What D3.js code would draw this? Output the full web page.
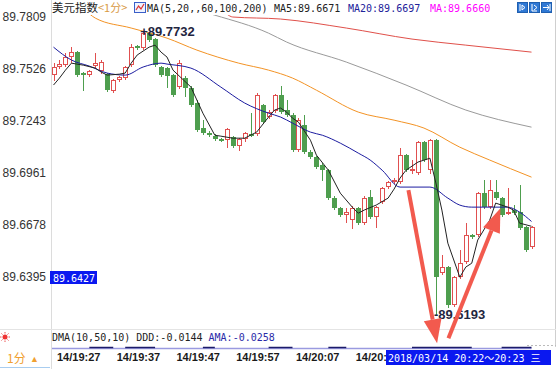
<!DOCTYPE html>
<html>
<head>
<meta charset="utf-8">
<script src="https://cdn.jsdelivr.net/npm/d3@7"></script>
<style>
  body { margin: 0; background: #fff; overflow: hidden; }
  svg { display: block; }
</style>
</head>
<body>
<div id="chart"></div>
<script>
// one candle per minute, index 0 = 14/19:26
const opens = [89.7493, 89.7537, 89.7547, 89.7591, 89.7618, 89.7504, 89.7493, 89.7542, 89.7515, 89.7498,
  89.7406, 89.7466, 89.7477, 89.7547, 89.7651, 89.7640, 89.7721, 89.7689, 89.7537, 89.7531,
  89.7493, 89.7428, 89.7477, 89.7422, 89.7341, 89.7205, 89.7177, 89.7161, 89.7145, 89.7139,
  89.7156, 89.7107, 89.7145, 89.7172, 89.7172, 89.7330, 89.7265, 89.7297, 89.7384, 89.7303,
  89.7276, 89.7085, 89.7221, 89.7074, 89.7047, 89.7003, 89.6976, 89.6824, 89.6769, 89.6731,
  89.6704, 89.6769, 89.6688, 89.6829, 89.6720, 89.6802, 89.6884, 89.6911, 89.6911, 89.7058,
  89.6971, 89.6960, 89.7128, 89.6976, 89.7139, 89.6416, 89.6449, 89.6242, 89.6394, 89.6476,
  89.6623, 89.6623, 89.6851, 89.6775, 89.6857, 89.6824, 89.6742, 89.6759, 89.6748, 89.6666,
  89.6557];
const closes = [89.7537, 89.7553, 89.7591, 89.7618, 89.7493, 89.7493, 89.7515, 89.7558, 89.7564, 89.7411,
  89.7466, 89.7482, 89.7537, 89.7645, 89.7640, 89.7721, 89.7683, 89.7547, 89.7493, 89.7488,
  89.7384, 89.7558, 89.7422, 89.7330, 89.7194, 89.7177, 89.7166, 89.7145, 89.7139, 89.7199,
  89.7107, 89.7145, 89.7177, 89.7166, 89.7384, 89.7237, 89.7292, 89.7384, 89.7292, 89.7276,
  89.7085, 89.7248, 89.7074, 89.7047, 89.6993, 89.6976, 89.6824, 89.6769, 89.6731, 89.6748,
  89.6769, 89.6688, 89.6824, 89.6720, 89.6775, 89.6878, 89.6911, 89.6922, 89.7058, 89.6976,
  89.6982, 89.7128, 89.7031, 89.7139, 89.6394, 89.6449, 89.6242, 89.6394, 89.6470, 89.6623,
  89.6612, 89.6851, 89.6775, 89.6867, 89.6824, 89.6731, 89.6748, 89.6742, 89.6661, 89.6541,
  89.6666];
const highs = [89.7558, 89.7575, 89.7613, 89.7645, 89.7624, 89.7509, 89.7520, 89.7613, 89.7575, 89.7504,
  89.7471, 89.7488, 89.7542, 89.7662, 89.7656, 89.7732, 89.7727, 89.7694, 89.7542, 89.7537,
  89.7498, 89.7575, 89.7488, 89.7433, 89.7357, 89.7248, 89.7188, 89.7172, 89.7150, 89.7205,
  89.7161, 89.7150, 89.7183, 89.7286, 89.7395, 89.7335, 89.7303, 89.7390, 89.7433, 89.7357,
  89.7286, 89.7259, 89.7276, 89.7085, 89.7052, 89.7014, 89.6982, 89.6835, 89.6775, 89.6769,
  89.6780, 89.6775, 89.6835, 89.6867, 89.6780, 89.6884, 89.6916, 89.6933, 89.7096, 89.7063,
  89.7031, 89.7134, 89.7134, 89.7145, 89.7145, 89.6514, 89.6454, 89.6400, 89.6541, 89.6688,
  89.6628, 89.6857, 89.6922, 89.6922, 89.6922, 89.6829, 89.6878, 89.6786, 89.6895, 89.6672,
  89.6672];
const lows = [89.7466, 89.7531, 89.7542, 89.7564, 89.7488, 89.7411, 89.7488, 89.7531, 89.7504, 89.7406,
  89.7401, 89.7460, 89.7471, 89.7542, 89.7634, 89.7634, 89.7678, 89.7542, 89.7488, 89.7428,
  89.7379, 89.7422, 89.7379, 89.7324, 89.7188, 89.7172, 89.7161, 89.7139, 89.7134, 89.7101,
  89.7101, 89.7085, 89.7134, 89.7161, 89.7166, 89.7232, 89.7259, 89.7292, 89.7286, 89.7270,
  89.7080, 89.7080, 89.7069, 89.7041, 89.6987, 89.6922, 89.6818, 89.6764, 89.6726, 89.6693,
  89.6661, 89.6682, 89.6682, 89.6715, 89.6666, 89.6797, 89.6878, 89.6906, 89.6906, 89.6971,
  89.6960, 89.6955, 89.7025, 89.6960, 89.6193, 89.6410, 89.6231, 89.6236, 89.6389, 89.6470,
  89.6606, 89.6617, 89.6769, 89.6769, 89.6818, 89.6726, 89.6737, 89.6737, 89.6656, 89.6536,
  89.6552];

// moving averages: [candle index, price]
const ma5 = [[0, 89.7439], [1, 89.7477], [2, 89.7520], [3, 89.7558], [5, 89.7547], [7, 89.7531], [8, 89.7509],
  [9, 89.7493], [11, 89.7498], [12, 89.7504], [13, 89.7558], [14, 89.7602], [16, 89.7645], [17, 89.7656],
  [18, 89.7618], [19, 89.7591], [20, 89.7520], [23, 89.7428], [25, 89.7286], [27, 89.7166], [28, 89.7161],
  [30, 89.7150], [32, 89.7150], [34, 89.7183], [36, 89.7265], [37, 89.7303], [38, 89.7314], [39, 89.7292],
  [40, 89.7259], [41, 89.7237], [43, 89.7139], [44, 89.7058], [46, 89.6976], [48, 89.6851], [50, 89.6775],
  [51, 89.6742], [52, 89.6759], [54, 89.6786], [56, 89.6824], [57, 89.6873], [58, 89.6933], [59, 89.6976],
  [61, 89.7020], [63, 89.7041], [64, 89.6906], [65, 89.6759], [66, 89.6579], [68, 89.6394], [69, 89.6449],
  [70, 89.6470], [71, 89.6596], [73, 89.6704], [74, 89.6797], [76, 89.6775], [77, 89.6759], [78, 89.6688],
  [80, 89.6671]];
const ma20 = [[0, 89.7645], [3, 89.7575], [6, 89.7542], [9, 89.7504], [12, 89.7493], [15, 89.7537], [18, 89.7558],
  [19, 89.7553], [23, 89.7531], [28, 89.7428], [32, 89.7341], [36, 89.7286], [38, 89.7265], [40, 89.7232],
  [43, 89.7183], [45, 89.7166], [48, 89.7123], [51, 89.7069], [53, 89.7031], [55, 89.6976], [58, 89.6884],
  [63, 89.6884], [66, 89.6824], [68, 89.6786], [70, 89.6775], [76, 89.6775], [78, 89.6748], [80, 89.6697]];
const ma60 = [[5, 89.7857], [7, 89.7803], [13, 89.7749], [19, 89.7694], [24, 89.7629], [31, 89.7558], [36, 89.7520],
  [40, 89.7477], [44, 89.7411], [51, 89.7292], [57, 89.7248], [62, 89.7205], [68, 89.7101], [73, 89.7031],
  [80, 89.6938]];
const ma100 = [[24, 89.7847], [27, 89.7819], [36, 89.7721], [39, 89.7673], [49, 89.7564], [59, 89.7439],
  [69, 89.7303], [80, 89.7210]];
const ma200 = [[29, 89.7825], [30, 89.7809], [38, 89.7798], [49, 89.7749], [60, 89.7689], [69, 89.7656],
  [80, 89.7618]];

const priceTicks = [89.7809, 89.7526, 89.7243, 89.6961, 89.6678, 89.6395];
const timeTickIdx = [1, 11, 21, 31, 41, 51];
const timeTickLabels = ['14/19:27', '14/19:37', '14/19:47', '14/19:57', '14/20:07', '14/20:17'];

const highMark = [15, 89.7732];
const lowMark = [64, 89.6193];
const cursorPrice = 89.6427;
const cursorTime = '2018/03/14 20:22～20:23 三';

// hand-drawn red arrows, in [candle index, price]
const arrows = [
  { from: [59.4, 89.6867], to: [64.2, 89.6035] },
  { from: [66.1, 89.6062], to: [74.8, 89.6769] },
];
// DMA lines peeking at the bottom of the sub panel
const dmaDark = [[6, 10], [12, 17], [25, 27], [36, 40], [46, 49], [60, 70], [75, 80]];

const W = 558, H = 369;
const RED = '#e05050', GREEN = '#4e9e4e';
const MONO = '"DejaVu Sans Mono", "Liberation Mono", "Noto Sans CJK SC", monospace';

const svg = d3.select('#chart').append('svg')
  .attr('width', W).attr('height', H)
  .style('font-family', '"Liberation Sans", Arial, sans-serif');

const x = d3.scaleLinear().domain([0, 80]).range([53.5, 531.5]);
const y = d3.scaleLinear().domain([89.6395, 89.7809]).range([277, 17]);

// frame
svg.append('line').attr('x1', 51.5).attr('x2', 51.5).attr('y1', 0).attr('y2', H).attr('stroke', '#dcdcdc');
svg.append('line').attr('x1', 555.5).attr('x2', 555.5).attr('y1', 0).attr('y2', 347).attr('stroke', '#cfcfcf');
svg.append('line').attr('x1', 0).attr('x2', 556).attr('y1', 329.5).attr('y2', 329.5).attr('stroke', '#e4e4e4');
svg.append('line').attr('x1', 527).attr('x2', 556).attr('y1', 345.5).attr('y2', 345.5)
  .attr('stroke', '#bbb').attr('stroke-dasharray', '2,2');
svg.append('line').attr('x1', 0).attr('x2', 50).attr('y1', 367.5).attr('y2', 367.5).attr('stroke', '#a8cdf0');

const defs = svg.append('defs');
defs.append('clipPath').attr('id', 'plotclip')
  .append('rect').attr('x', 52).attr('y', 15).attr('width', 503).attr('height', 314);

const plot = svg.append('g').attr('clip-path', 'url(#plotclip)');

// price axis
const yAxis = svg.append('g')
  .attr('transform', 'translate(46,0)')
  .call(d3.axisLeft(y).tickValues(priceTicks).tickFormat(d3.format('.4f')).tickSize(0));
yAxis.select('.domain').remove();
yAxis.selectAll('text').attr('x', 0).attr('font-size', 12).attr('fill', '#333')
  .attr('font-family', '"Liberation Sans", Arial, sans-serif');

// candles
const bars = d3.range(opens.length).map(i => ({ i, o: opens[i], c: closes[i], h: highs[i], l: lows[i] }));
plot.selectAll('g.candle').data(bars).join('g').attr('class', 'candle')
  .each(function (d) {
    const g = d3.select(this);
    const cx = Math.round(x(d.i));
    const up = d.c > d.o;
    const col = up ? RED : GREEN;
    const top = Math.round(y(Math.max(d.o, d.c)));
    const bot = Math.round(y(Math.min(d.o, d.c)));
    g.append('line')
      .attr('x1', cx + 0.5).attr('x2', cx + 0.5)
      .attr('y1', Math.round(y(d.h))).attr('y2', Math.round(y(d.l)) + 1)
      .attr('stroke', col);
    if (up) {
      g.append('rect')
        .attr('x', cx - 1.5).attr('y', top + 0.5)
        .attr('width', 4).attr('height', Math.max(bot - top - 1, 1))
        .attr('fill', '#fff').attr('stroke', col);
    } else {
      g.append('rect')
        .attr('x', cx - 2).attr('y', top)
        .attr('width', 5).attr('height', Math.max(bot - top, 2))
        .attr('fill', col);
    }
  });

// moving average lines
const straight = d3.line().x(d => x(d[0])).y(d => y(d[1]));
const smooth = d3.line().x(d => x(d[0])).y(d => y(d[1])).curve(d3.curveMonotoneX);
const maLines = [
  { data: ma200, color: '#e0504a', gen: smooth },
  { data: ma100, color: '#9a9a9a', gen: smooth },
  { data: ma60, color: '#f39325', gen: smooth },
  { data: ma20, color: '#1c1ca0', gen: smooth },
  { data: ma5, color: '#222', gen: straight },
];
plot.selectAll('path.ma').data(maLines).join('path')
  .attr('class', 'ma')
  .attr('d', d => d.gen(d.data))
  .attr('fill', 'none')
  .attr('stroke', d => d.color)
  .attr('stroke-width', 1);

// extreme labels
svg.append('text')
  .attr('x', x(highMark[0]) - 3).attr('y', y(highMark[1]) + 5)
  .attr('font-size', 13).attr('font-weight', 'bold').attr('fill', '#1f2540')
  .text('+' + highMark[1].toFixed(4));
svg.append('text')
  .attr('x', x(lowMark[0]) - 2).attr('y', y(lowMark[1]) + 5)
  .attr('font-size', 13).attr('font-weight', 'bold').attr('fill', '#1f2540')
  .text('-' + lowMark[1].toFixed(4));

// arrows
const ARROW = '#f25a4e';
arrows.forEach(a => {
  const x1 = x(a.from[0]), y1 = y(a.from[1]), x2 = x(a.to[0]), y2 = y(a.to[1]);
  const ang = Math.atan2(y2 - y1, x2 - x1);
  const len = 24, half = 9;
  const bx = x2 - len * Math.cos(ang), by = y2 - len * Math.sin(ang);
  svg.append('line')
    .attr('x1', x1).attr('y1', y1).attr('x2', bx).attr('y2', by)
    .attr('stroke', ARROW).attr('stroke-width', 4);
  svg.append('polygon')
    .attr('points', [
      [x2, y2],
      [bx + half * Math.sin(ang), by - half * Math.cos(ang)],
      [bx - half * Math.sin(ang), by + half * Math.cos(ang)],
    ].map(p => p.join(',')).join(' '))
    .attr('fill', ARROW);
});

// cursor price box
const cpY = Math.round(y(cursorPrice));
svg.append('rect').attr('x', 50).attr('y', cpY).attr('width', 47).attr('height', 13).attr('fill', '#0a18f0');
svg.append('text').attr('x', 53).attr('y', cpY + 10.5)
  .attr('font-family', MONO).attr('font-size', 10).attr('fill', '#fff')
  .text(cursorPrice.toFixed(4));

// header
const head = svg.append('g').attr('font-family', MONO).attr('font-size', 10);
head.append('text').attr('x', 52).attr('y', 12)
  .attr('font-family', '"Noto Sans CJK SC", sans-serif').attr('font-size', 11.5).attr('fill', '#222')
  .text('美元指数');
head.append('text').attr('x', 98).attr('y', 12)
  .attr('font-family', '"Noto Sans CJK SC", sans-serif').attr('font-size', 11).attr('fill', '#d99a45')
  .text('<1分>');
head.append('rect').attr('x', 134.5).attr('y', 2.5).attr('width', 11).attr('height', 10)
  .attr('fill', '#eef3ff').attr('stroke', '#3a5ec8');
head.append('polyline').attr('points', '136,10 138.5,6 141,9 144,4')
  .attr('fill', 'none').attr('stroke', '#d33').attr('stroke-width', 1.2);
head.append('text').attr('x', 147).attr('y', 12).attr('fill', '#222').text('MA(5,20,,60,100,200)');
head.append('text').attr('x', 274).attr('y', 12).attr('fill', '#222').text('MA5:89.6671');
head.append('text').attr('x', 348).attr('y', 12).attr('fill', '#22229a').text('MA20:89.6697');
head.append('text').attr('x', 430).attr('y', 12).attr('fill', '#ff00ff').text('MA:89.6660');

[517, 529, 541].forEach((bx, k) => {
  head.append('rect').attr('x', bx + 0.5).attr('y', 2.5).attr('width', 10).attr('height', 10)
    .attr('fill', '#2f78d4').attr('stroke', '#1f5fb0');
  const g = head.append('g').attr('stroke', '#fff').attr('fill', 'none').attr('stroke-width', 1);
  if (k === 0) {
    g.append('path').attr('d', `M${bx + 3},4 V11 M${bx + 5},5 L${bx + 8},7.5 L${bx + 5},10 Z`);
  } else if (k === 1) {
    g.append('path').attr('d', `M${bx + 3},4 V11 H${bx + 8} M${bx + 5},5 L${bx + 8},7.5 L${bx + 5},10`);
  } else {
    g.append('path').attr('d', `M${bx + 2},7.5 H${bx + 8} M${bx + 6},5 L${bx + 8},7.5 L${bx + 6},10 M${bx + 9},4 V11`);
  }
});

// DMA sub panel
svg.append('text').attr('x', 52).attr('y', 341).attr('font-family', MONO).attr('font-size', 10)
  .call(t => {
    t.append('tspan').attr('fill', '#222').text('DMA(10,50,10) DDD:-0.0144 ');
    t.append('tspan').attr('fill', '#2a2aa8').text('AMA:-0.0258');
  });
svg.append('line').attr('x1', 52).attr('x2', x(80)).attr('y1', 348.5).attr('y2', 348.5)
  .attr('stroke', '#9a9ae0').attr('stroke-width', 1.5);
svg.selectAll('line.dma').data(dmaDark).join('line').attr('class', 'dma')
  .attr('x1', d => x(d[0])).attr('x2', d => x(d[1]))
  .attr('y1', 347.5).attr('y2', 347.5)
  .attr('stroke', '#1c1c6a').attr('stroke-width', 1.5);

// small sun icon
const sun = svg.append('g').attr('transform', 'translate(5,337)');
sun.append('circle').attr('r', 2.5).attr('fill', '#e33');
d3.range(8).forEach(k => {
  const a = k * Math.PI / 4;
  sun.append('line').attr('x1', 3.5 * Math.cos(a)).attr('y1', 3.5 * Math.sin(a))
    .attr('x2', 5 * Math.cos(a)).attr('y2', 5 * Math.sin(a)).attr('stroke', '#e55');
});

// time axis; the cursor time box hides the end of the last label, so only its visible part is drawn
const boxX = 386;
const xAxis = svg.append('g')
  .attr('transform', 'translate(0,350)')
  .call(d3.axisBottom(x).tickValues(timeTickIdx)
    .tickFormat((d, k) => k === timeTickLabels.length - 1 ? timeTickLabels[k].slice(0, 6) : timeTickLabels[k])
    .tickSize(0));
xAxis.select('.domain').remove();
xAxis.selectAll('text')
  .attr('text-anchor', 'start')
  .attr('dx', -3).attr('y', 3)
  .attr('font-size', 11).attr('font-weight', 'bold').attr('fill', '#1a1a1a')
  .attr('font-family', '"Liberation Sans", Arial, sans-serif');

svg.append('text').attr('x', 7).attr('y', 363)
  .attr('font-family', '"Noto Sans CJK SC", sans-serif').attr('font-size', 12).attr('fill', '#f0a030')
  .text('1分');
svg.append('text').attr('x', 30).attr('y', 362).attr('font-size', 9).attr('fill', '#f0a030').text('▲');

// cursor time box
svg.append('rect').attr('x', boxX).attr('y', 350).attr('width', 165).attr('height', 15).attr('fill', '#0a18f0');
svg.append('text').attr('x', boxX + 2).attr('y', 361.5)
  .attr('font-family', MONO).attr('font-size', 10).attr('fill', '#fff')
  .text(cursorTime);
</script>
</body>
</html>
